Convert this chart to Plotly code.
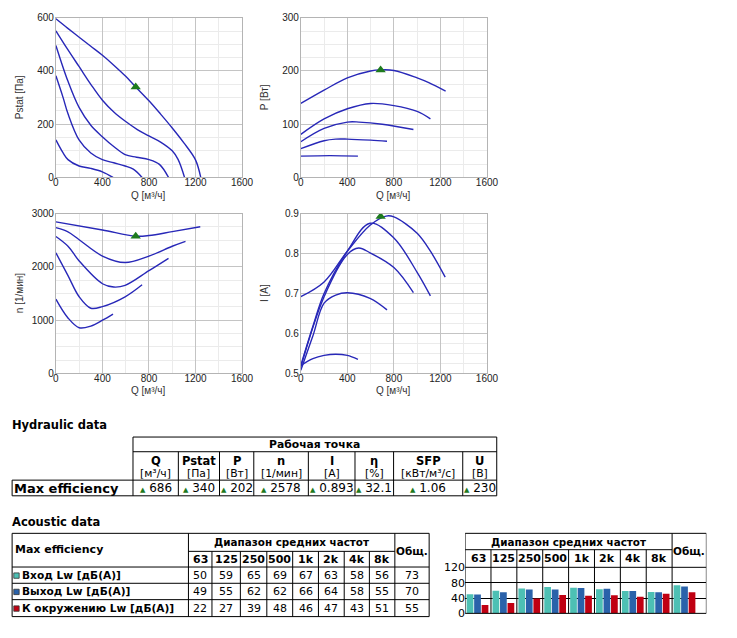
import plotly.graph_objects as go

W, H = 737, 638
def px(x): return x / W
def py(y): return 1 - y / H

BLUE = "#2828b8"
GREEN = "#1e7a1e"
TEAL = "#4dc0b4"
DBLUE = "#2a62aa"
RED = "#c00012"
TFONT = "DejaVu Sans"
AFONT = "Liberation Sans"

# ---------------- performance curves (5 speed steps) ----------------
pstat_q = [[0, 100, 200, 300, 400, 500, 600, 686, 800, 900, 1000, 1100, 1200, 1245],
           [0, 100, 200, 300, 400, 500, 600, 700, 800, 900, 1000, 1050, 1106],
           [0, 104, 199, 300, 399, 497, 595, 693, 800, 890, 968],
           [0, 62, 104, 199, 300, 399, 497, 595, 665, 741],
           [0, 62, 104, 199, 300, 399, 491]]
pstat_v = [[596, 561, 527, 493, 459, 421, 380, 340, 288, 238, 186, 130, 66, 0],
           [551, 482, 416, 350, 290, 245, 210, 180, 156, 133, 100, 68, 0],
           [496, 361, 263, 196, 153, 116, 86, 76, 67, 49, 0],
           [382, 300, 239, 141, 92, 67, 55, 43, 31, 0],
           [141, 92, 67, 43, 34, 21, 0]]

power_q = [[0, 200, 400, 600, 686, 800, 1000, 1100, 1245],
           [0, 200, 400, 600, 800, 1000, 1114],
           [0, 200, 400, 500, 700, 968],
           [0, 200, 300, 400, 600, 741],
           [0, 250, 491]]
power_v = [[139, 164, 187, 200, 202, 201, 187, 178, 162],
           [81, 110, 129, 139, 135, 124, 110],
           [67, 92, 104, 104, 100, 90],
           [54, 69, 72, 72, 70, 68],
           [40, 41, 40]]

speed_q = [[0, 400, 686, 800, 1000, 1241],
           [0, 100, 200, 400, 595, 800, 1000, 1114],
           [0, 104, 200, 400, 497, 595, 800, 968],
           [0, 104, 200, 300, 400, 595, 741],
           [0, 104, 200, 300, 400, 491]]
speed_v = [[2847, 2694, 2578, 2590, 2663, 2755],
           [2737, 2663, 2510, 2204, 2082, 2204, 2388, 2480],
           [2571, 2388, 2112, 1684, 1622, 1653, 1929, 2161],
           [2265, 1837, 1439, 1224, 1255, 1439, 1665],
           [1396, 1041, 857, 888, 998, 1114]]

current_q = [[0, 200, 400, 595, 733, 800, 1000, 1114, 1241],
             [0, 104, 200, 400, 595, 800, 1000, 1114],
             [0, 200, 400, 497, 595, 800, 968],
             [0, 104, 200, 300, 400, 595, 741],
             [0, 104, 200, 300, 400, 491]]
current_v = [[0.692, 0.729, 0.806, 0.871, 0.894, 0.892, 0.851, 0.806, 0.741],
             [0.52, 0.618, 0.70, 0.806, 0.876, 0.839, 0.753, 0.694],
             [0.516, 0.692, 0.798, 0.814, 0.802, 0.765, 0.702],
             [0.508, 0.594, 0.676, 0.696, 0.702, 0.688, 0.659],
             [0.52, 0.537, 0.545, 0.548, 0.545, 0.535]]

# operating point (max efficiency)
op_q = 686
op_pstat = 340
op_power = 202
op_speed = 2578
op_current = 0.893

# ---------------- hydraulic table ----------------
hyd_cols = ["Q", "Pstat", "P", "n", "I", "η", "SFP", "U"]
hyd_units = ["[м³/ч]", "[Па]", "[Вт]", "[1/мин]", "[A]", "[%]", "[кВт/м³/с]", "[В]"]
hyd_vals = ["686", "340", "202", "2578", "0.893", "32.1", "1.06", "230"]

# ---------------- acoustic data ----------------
freqs = ["63", "125", "250", "500", "1k", "2k", "4k", "8k"]
ac_rows = ["Вход Lw [дБ(A)]", "Выход Lw [дБ(A)]", "К окружению Lw [дБ(A)]"]
lw_inlet = [50, 59, 65, 69, 67, 63, 58, 56]
lw_outlet = [49, 55, 62, 62, 66, 64, 58, 55]
lw_env = [22, 27, 39, 48, 46, 47, 43, 51]
lw_total = [73, 70, 55]
ac_colors = [TEAL, DBLUE, RED]

fig = go.Figure()

charts = [
    (pstat_q, pstat_v, op_pstat, "x", "y"),
    (power_q, power_v, op_power, "x2", "y2"),
    (speed_q, speed_v, op_speed, "x3", "y3"),
    (current_q, current_v, op_current, "x4", "y4"),
]
for qs, vs, opv, xa, ya in charts:
    for q, v in zip(qs, vs):
        fig.add_trace(go.Scatter(x=q, y=v, mode="lines", line=dict(color=BLUE, width=1.4, shape="spline", smoothing=1.0),
                                 xaxis=xa, yaxis=ya, hoverinfo="skip", showlegend=False))
    fig.add_trace(go.Scatter(x=[op_q], y=[opv], mode="markers",
                             marker=dict(symbol="triangle-up", size=9, color=GREEN),
                             xaxis=xa, yaxis=ya, showlegend=False, hoverinfo="skip"))

# chart geometry (pixels)
cx = [(54, 244), (304, 494)]
cy = [(12, 175), (212, 375)]
yinfo = [
    ("Pstat [Па]", [0, 600], 200, 50),
    ("P [Вт]", [0, 300], 100, 25),
    ("n [1/мин]", [0, 3000], 1000, 250),
    ("I [A]", [0.5, 0.9], 0.1, 0.025),
]
layout = dict(width=W, height=H, margin=dict(l=0, r=0, t=0, b=0),
              paper_bgcolor="white", plot_bgcolor="white", showlegend=False)
annotations = []
shapes = []
for i in range(4):
    col, row = i % 2, i // 2
    sfx = "" if i == 0 else str(i + 1)
    x0, x1 = cx[col]
    y0, y1 = cy[row]
    title, yr, ydt, ymin = yinfo[i]
    layout["xaxis" + sfx] = dict(domain=[px(x0), px(x1)], range=[0, 1600], dtick=400, tick0=0,
                                 anchor="y" + sfx, showline=True, mirror=True, linecolor="#b4b4b4",
                                 gridcolor="#c4c4c4", zeroline=False, ticks="", fixedrange=True,
                                 ticklabelstandoff=-4,
                                 tickfont=dict(family=AFONT, size=10, color="#222"),
                                 minor=dict(dtick=200, showgrid=True, gridcolor="#ebebeb"))
    layout["yaxis" + sfx] = dict(domain=[py(y1), py(y0)], range=yr, dtick=ydt, tick0=yr[0],
                                 anchor="x" + sfx, showline=True, mirror=True, linecolor="#b4b4b4",
                                 gridcolor="#c4c4c4", zeroline=False, ticks="", fixedrange=True,
                                 ticklabelstandoff=-1,
                                 tickfont=dict(family=AFONT, size=10, color="#222"),
                                 minor=dict(dtick=ymin, showgrid=True, gridcolor="#ebebeb"))
    annotations.append(dict(text=title, x=px(x0 - 37), y=py((y0 + y1) / 2), xref="paper", yref="paper",
                            textangle=-90, showarrow=False, xanchor="center", yanchor="middle",
                            font=dict(family=AFONT, size=10, color="#333")))
    annotations.append(dict(text="Q [м³/ч]", x=px((x0 + x1) / 2), y=py(y1 + 18), xref="paper", yref="paper",
                            showarrow=False, xanchor="center", yanchor="middle",
                            font=dict(family=AFONT, size=10, color="#333")))

def txt(s, x, y, size=11, bold=False, anchor="center", color="black"):
    if bold:
        s = "<b>" + s + "</b>"
    annotations.append(dict(text=s, x=px(x), y=py(y), xref="paper", yref="paper", showarrow=False,
                            xanchor=anchor, yanchor="middle", borderpad=0,
                            font=dict(family=TFONT, size=size, color=color)))

def hline(x0, x1, y):
    shapes.append(dict(type="line", xref="paper", yref="paper", x0=px(x0), x1=px(x1), y0=py(y), y1=py(y),
                       line=dict(color="black", width=1)))

def vline(x, y0, y1):
    shapes.append(dict(type="line", xref="paper", yref="paper", x0=px(x), x1=px(x), y0=py(y0), y1=py(y1),
                       line=dict(color="black", width=1)))

# ---------------- hydraulic table drawing ----------------
txt("Hydraulic data", 8, 428, 11.5, True, "left")
hb = [132.7, 179, 221, 256, 311.7, 359.3, 398.7, 469.3, 504]
hr = [440, 455, 484, 500]
hline(hb[0], hb[-1], hr[0]); hline(hb[0], hb[-1], hr[1])
hline(9.3, hb[-1], hr[2]); hline(9.3, hb[-1], hr[3])
vline(hb[0], hr[0], hr[3]); vline(hb[-1], hr[0], hr[3]); vline(9.3, hr[2], hr[3])
for b in hb[1:-1]:
    vline(b, hr[1], hr[3])
txt("Рабочая точка", (hb[0] + hb[-1]) / 2, 448, 10.8, True)
for j in range(len(hyd_cols)):
    c = (hb[j] + hb[j + 1]) / 2
    txt(hyd_cols[j], c, 464, 11.5, True)
    txt(hyd_units[j], c, 477.5, 10.8)
    txt("<span style='color:%s;font-size:7px'>▲</span> %s" % (GREEN, hyd_vals[j]), c, 492.5, 12)
txt("Max efficiency", 10, 492.5, 13, True, "left")

# ---------------- acoustic table (left) ----------------
txt("Acoustic data", 8, 527, 11.5, True, "left")
ab = [9.3, 189.3, 213.3, 242.3, 269.3, 295.7, 322, 348.3, 374, 400, 435]
ar = [538.3, 556.7, 572.7, 589.3, 606, 623.3]
for y in [ar[0], ar[2], ar[3], ar[4], ar[5]]:
    hline(ab[0], ab[-1], y)
hline(ab[1], ab[9], ar[1])
for x in [ab[0], ab[1], ab[9], ab[10]]:
    vline(x, ar[0], ar[5])
for x in ab[2:9]:
    vline(x, ar[1], ar[5])
txt("Max efficiency", 11, 555, 11, True, "left")
txt("Диапазон средних частот", (ab[1] + ab[9]) / 2, 547.5, 10.4, True)
txt("Общ.", (ab[9] + ab[10]) / 2, 556, 10.5, True)
for j, f in enumerate(freqs):
    txt(f, (ab[j + 1] + ab[j + 2]) / 2, 565, 11, True)
rows_vals = [lw_inlet, lw_outlet, lw_env]
for r in range(3):
    yc = (ar[r + 2] + ar[r + 3]) / 2
    shapes.append(dict(type="rect", xref="paper", yref="paper", x0=px(11), x1=px(16.5), y0=py(yc - 2.3), y1=py(yc + 3.2),
                       fillcolor=ac_colors[r], line=dict(color="#333", width=0.8)))
    txt(ac_rows[r], 18, yc, 10.6, True, "left")
    for j in range(8):
        txt(str(rows_vals[r][j]), (ab[j + 1] + ab[j + 2]) / 2, yc, 11)
    txt(str(lw_total[r]), (ab[9] + ab[10]) / 2, yc, 11)

# ---------------- acoustic bar chart (right) ----------------
gw_tot = 35 / 26.41
xr = 8 + gw_tot
offs = [0.19, 0.48, 0.77]
for r in range(3):
    xs = [j + offs[r] for j in range(8)] + [8 + offs[r] * 1.0]
    ys = rows_vals[r] + [lw_total[r]]
    fig.add_trace(go.Bar(x=xs, y=ys, width=0.26, marker=dict(color=ac_colors[r], line=dict(width=0)),
                         xaxis="x5", yaxis="y5", hoverinfo="skip", showlegend=False))
layout["xaxis5"] = dict(domain=[px(471.7), px(718)], range=[0, xr], anchor="y5", showticklabels=False,
                        showgrid=False, zeroline=False, fixedrange=True)
layout["yaxis5"] = dict(domain=[py(620), py(573)], range=[0, 120], anchor="x5", tickvals=[0, 40, 80, 120],
                        showgrid=True, gridcolor="black", gridwidth=1, zeroline=False, fixedrange=True,
                        ticklabelstandoff=-1,
                        tickfont=dict(family=TFONT, size=11, color="black"), ticks="")
layout["barmode"] = "overlay"
rt = [538.3, 555, 573, 620]
ytop_p = py(rt[0]); ymid_p = py(rt[1]); ybot_p = py(rt[3])
for b in range(9):
    y_start = ytop_p if b in (0, 8) else ymid_p
    shapes.append(dict(type="line", xref="x5", yref="paper", x0=b, x1=b, y0=ybot_p, y1=y_start,
                       line=dict(color="black", width=1)))
shapes.append(dict(type="line", xref="x5", yref="paper", x0=xr, x1=xr, y0=ybot_p, y1=ytop_p,
                   line=dict(color="black", width=1)))
for y, xe in [(rt[0], xr), (rt[1], 8), (rt[2], xr), (rt[3], xr)]:
    shapes.append(dict(type="line", xref="x5", yref="paper", x0=0, x1=xe, y0=py(y), y1=py(y),
                       line=dict(color="black", width=1)))
annotations.append(dict(text="<b>Диапазон средних частот</b>", x=4, y=py(547), xref="x5", yref="paper",
                        showarrow=False, xanchor="center", yanchor="middle", font=dict(family=TFONT, size=10.4, color="black")))
annotations.append(dict(text="<b>Общ.</b>", x=8 + gw_tot / 2, y=py(556), xref="x5", yref="paper",
                        showarrow=False, xanchor="center", yanchor="middle", font=dict(family=TFONT, size=10.5, color="black")))
for j, f in enumerate(freqs):
    annotations.append(dict(text="<b>%s</b>" % f, x=j + 0.5, y=py(564.5), xref="x5", yref="paper",
                            showarrow=False, xanchor="center", yanchor="middle", font=dict(family=TFONT, size=11, color="black")))

layout["annotations"] = annotations
layout["shapes"] = shapes
fig.update_layout(**layout)
fig.write_html("out.html", config={"displayModeBar": False},
               post_script="document.body.style.margin='0';")
